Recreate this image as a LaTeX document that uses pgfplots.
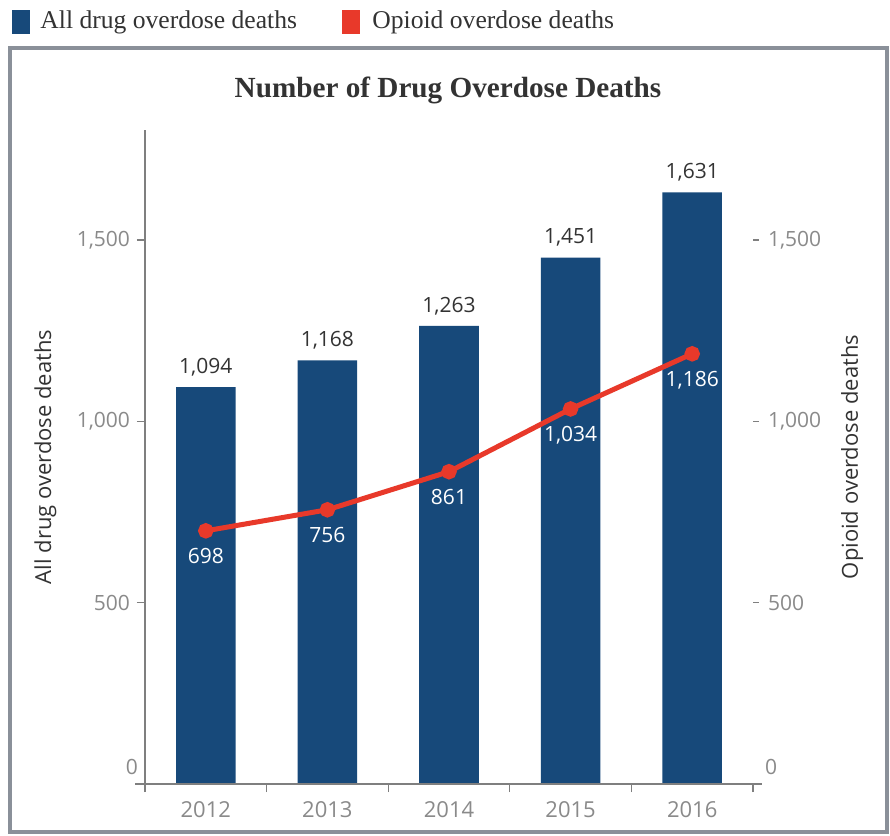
\documentclass[border=0pt]{standalone}
\usepackage{pgfplots}
\pgfplotsset{compat=1.18}
\usepackage{fontspec}
\setmainfont{Liberation Serif}
\newfontfamily\sansf{Open Sans}
\definecolor{barblue}{HTML}{17497A}
\definecolor{linered}{HTML}{E8392A}
\definecolor{tickgray}{HTML}{8A8A8A}
\definecolor{labeldark}{HTML}{333333}
\definecolor{framegray}{HTML}{8A9099}
\definecolor{axisgray}{HTML}{7F7F7F}
\pgfplotstableread{
x all opioid
0 1094 698
1 1168 756
2 1263 861
3 1451 1034
4 1631 1186
}\datatable
\begin{document}
\begin{tikzpicture}
\begin{scope}[x=0.5pt,y=-0.5pt]
\useasboundingbox (0,0) rectangle (890,836);
\fill[white] (0,0) rectangle (890,836);
\draw[framegray, line width=2pt] (10,48) -- (887,48) -- (887,832) -- (10,832) -- cycle;
% legend
\fill[barblue] (12,10) rectangle (30,34);
\node[anchor=west, inner sep=0pt, font=\fontsize{12.8}{14}\selectfont, text=labeldark] at (40,22) {All drug overdose deaths};
\fill[linered] (342,10) rectangle (360,34);
\node[anchor=west, inner sep=0pt, font=\fontsize{12.8}{14}\selectfont, text=labeldark] at (372,22) {Opioid overdose deaths};
% title
\node[font=\bfseries\fontsize{14.6}{16}\selectfont, text=labeldark] at (448,90) {Number of Drug Overdose Deaths};
\end{scope}
\begin{axis}[
  at={(72.5pt,-392pt)}, anchor=south west,
  scale only axis, width=304pt, height=327pt,
  xmin=-0.5, xmax=4.5, ymin=0, ymax=1803,
  axis x line=bottom, axis y line=left,
  axis line style={-, axisgray, line width=0.6pt},
  xtick={0,...,4}, xticklabels={2012,2013,2014,2015,2016},
  xticklabel style={font=\sansf\fontsize{11}{13}\selectfont, yshift=-1pt},
  major x tick style={draw=none},
  minor xtick={-0.5,0.5,1.5,2.5,3.5,4.5},
  minor x tick style={axisgray, line width=0.6pt},
  minor tick length=4pt,
  major tick length=4pt,
  xtick align=outside, ytick align=outside,
  ytick={500,1000,1500},
  extra y ticks={0},
  extra y tick style={major tick length=0pt, yticklabel style={yshift=8.5pt}},
  y tick style={axisgray, line width=0.6pt},
  /pgf/number format/.cd, 1000 sep={,}, assume math mode=true, /pgfplots/.cd,
  tick label style={font=\sansf\fontsize{10.5}{12}\selectfont, text=tickgray},
  ylabel={All drug overdose deaths},
  ylabel style={at={(axis description cs:-0.164,0.5)}, anchor=center, font=\sansf\fontsize{11}{13}\selectfont, text=labeldark},
  clip=false,
]
\addplot[ybar, bar width=0.49, fill=barblue, draw=none,
  nodes near coords,
  every node near coord/.append style={font=\sansf\fontsize{10.5}{12}\selectfont, text=labeldark, anchor=south, yshift=2pt}]
  table[x=x, y=all] {\datatable};
\draw[axisgray, line width=0.6pt] (axis cs:-0.58,0) -- (axis cs:4.57,0);
\end{axis}
\begin{axis}[
  at={(72.5pt,-392pt)}, anchor=south west,
  scale only axis, width=304pt, height=327pt,
  xmin=-0.5, xmax=4.5, ymin=0, ymax=1803,
  axis x line=none, axis y line*=right,
  axis line style={draw=none},
  ytick={500,1000,1500},
  extra y ticks={0},
  extra y tick style={major tick length=0pt, yticklabel style={yshift=8.5pt, xshift=1.5pt}},
  ytick align=outside, major tick length=3pt,
  y tick style={axisgray, line width=0.6pt},
  /pgf/number format/.cd, 1000 sep={,}, assume math mode=true, /pgfplots/.cd,
  tick label style={font=\sansf\fontsize{10.5}{12}\selectfont, text=tickgray},
  yticklabel style={xshift=1pt},
  ylabel={Opioid overdose deaths},
  ylabel style={at={(axis description cs:1.163,0.5)}, anchor=center, font=\sansf\fontsize{11}{13}\selectfont, text=labeldark},
  clip=false,
]
\addplot[linered, line width=2.5pt, mark=*, mark size=2.6pt, mark options={fill=linered, draw=linered},
  nodes near coords,
  every node near coord/.append style={font=\sansf\fontsize{10.5}{12}\selectfont, text=white, anchor=north, yshift=-4pt}]
  table[x=x, y=opioid] {\datatable};
\end{axis}
\end{tikzpicture}
\end{document}
